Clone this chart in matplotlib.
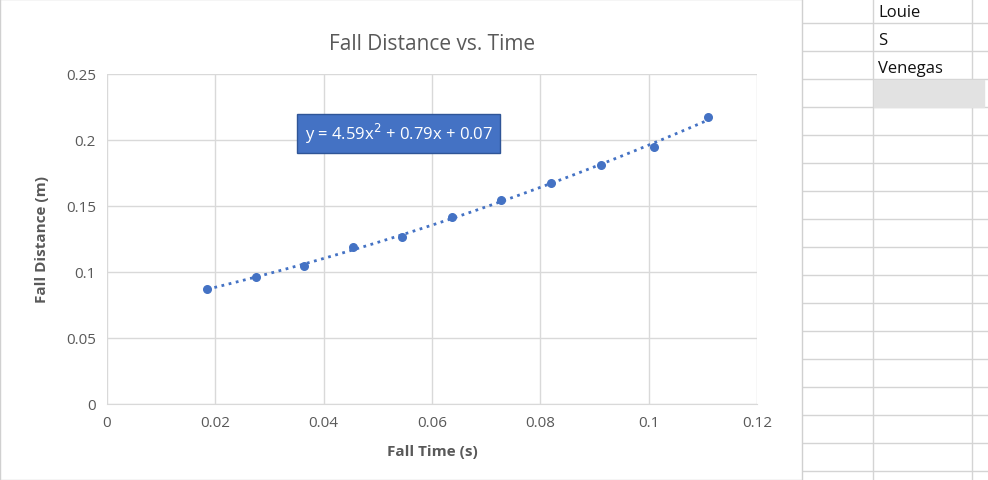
import numpy as np
import matplotlib
matplotlib.use("Agg")
import matplotlib.pyplot as plt
from matplotlib.patches import Rectangle

fall_time = [0.0185, 0.0275, 0.0364, 0.0454, 0.0545, 0.0637, 0.0727, 0.0820, 0.0912, 0.1010, 0.1110]
fall_dist = [0.0871, 0.0962, 0.1045, 0.1189, 0.1265, 0.1417, 0.1545, 0.1674, 0.1811, 0.1947, 0.2174]
cell_text = ["Louie", "S", "Venegas"]

W, H = 988, 481
fig = plt.figure(figsize=(W/100, H/100), dpi=100)
plt.rcParams['font.family'] = ['Open Sans', 'DejaVu Sans']

# spreadsheet grid on the right
gc = '#d4d4d4'
for yy in np.arange(24, H, 28):
    fig.add_artist(plt.Line2D([803/W, 1], [1-yy/H]*2, color=gc, lw=1, zorder=-3))
for xx in [873, 972]:
    fig.add_artist(plt.Line2D([xx/W]*2, [0, 1], color=gc, lw=1, zorder=-3))
fig.add_artist(Rectangle((874/W, 1-108/H), 110/W, 27/H, color='#e2e2e2', transform=fig.transFigure, zorder=-2))
for i, t in enumerate(cell_text):
    fig.text(878/W, 1-(13+28*i)/H, t, fontsize=12, va='center', color='#111')

# chart area
fig.add_artist(Rectangle((0, 0), 802/W, 1, facecolor='white', edgecolor='#d0d0d0', lw=1,
                         transform=fig.transFigure, zorder=-1))

ax = fig.add_axes([107/W, 1-405/H, 650/W, 330/H])
ax.set_zorder(5)
ax.patch.set_alpha(0)
ax.scatter(fall_time, fall_dist, s=30, color='#4472c4', zorder=3)
c = np.polyfit(fall_time, fall_dist, 2)
xs = np.linspace(min(fall_time), max(fall_time), 100)
ax.plot(xs, np.polyval(c, xs), ls=':', lw=2, color='#4472c4', zorder=2)
ax.set_xlim(0, 0.12)
ax.set_ylim(0, 0.25)
ax.set_xticks(np.arange(0, 0.121, 0.02))
ax.set_xticklabels(['0', '0.02', '0.04', '0.06', '0.08', '0.1', '0.12'])
ax.set_yticks(np.arange(0, 0.251, 0.05))
ax.set_yticklabels(['0', '0.05', '0.1', '0.15', '0.2', '0.25'])
ax.grid(True, color='#d9d9d9', lw=1)
ax.set_axisbelow(True)
for s in ['top', 'right', 'left']:
    ax.spines[s].set_visible(False)
ax.spines['bottom'].set_color('#d9d9d9')
ax.tick_params(length=0, labelsize=11, colors='#595959', pad=8)
ax.set_xlabel('Fall Time (s)', fontsize=11, fontweight='bold', color='#595959', labelpad=10)
ax.set_ylabel('Fall Distance (m)', fontsize=11, fontweight='bold', color='#595959', labelpad=12)
ax.set_title('Fall Distance vs. Time', fontsize=15, color='#595959', pad=18)
ax.text(0.0365, 0.205, 'y = 4.59x$^2$ + 0.79x + 0.07', fontsize=12, color='white', va='center',
        bbox=dict(boxstyle='square,pad=0.45', fc='#4472c4', ec='#2f5597'))

fig.savefig('out.png', dpi=100)
